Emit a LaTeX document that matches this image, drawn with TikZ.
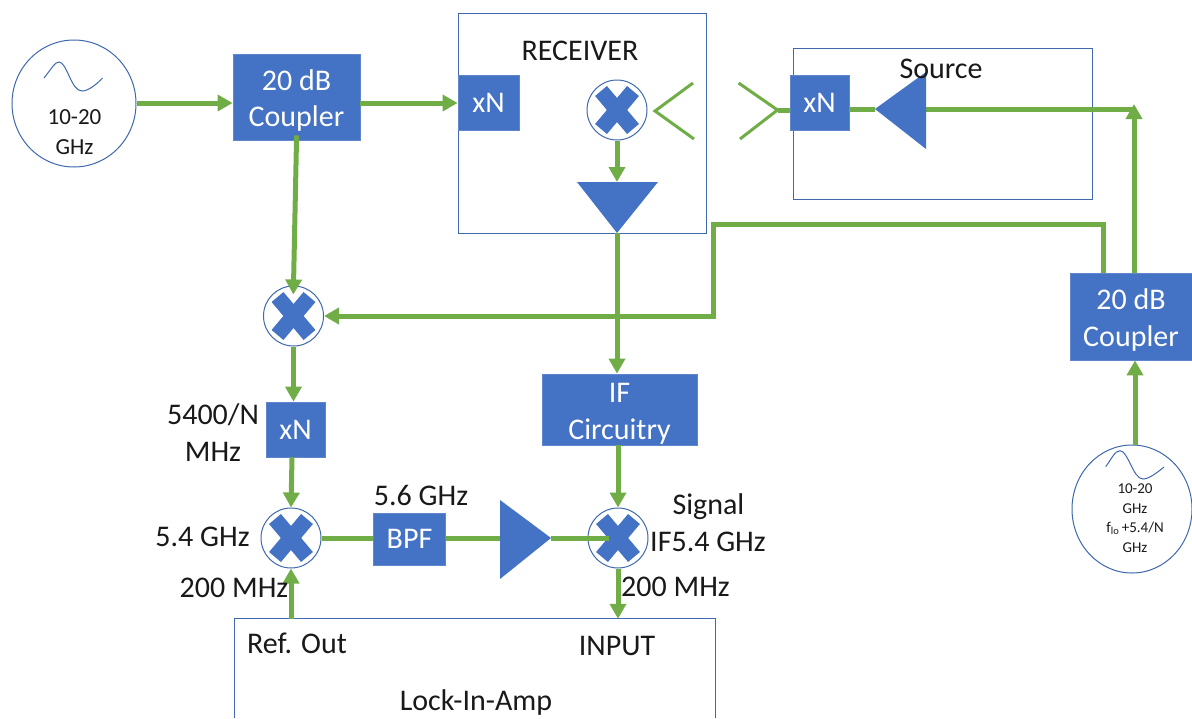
\documentclass[tikz,border=0pt]{standalone}
\usepackage{fontspec}
\setmainfont{Carlito}
\usetikzlibrary{arrows.meta,shapes.geometric,calc}
\definecolor{bblue}{HTML}{4472C4}
\definecolor{edgeblue}{HTML}{3F68AE}
\definecolor{wire}{HTML}{70AD47}
\newcommand{\topgap}{\rule{0pt}{28pt}}
\tikzset{
  x=1pt,y=-1pt,
  blockbox/.style={draw=bblue!85!white,line width=0.8pt,fill=bblue,text=white,inner sep=0pt,align=center,font=\fontsize{30}{36.5}\selectfont},
  framebox/.style={draw=edgeblue,line width=1pt,inner sep=0pt},
  roundbox/.style={ellipse,draw=edgeblue,line width=1pt,inner sep=0pt,fill=white},
  lbl/.style={inner sep=0pt,font=\fontsize{30}{36}\selectfont,text=black!90,text height=19pt,text depth=0pt},
  smalllbl/.style={inner sep=0pt,align=center,text=black!90,font=\fontsize{15}{19.5}\selectfont},
  conn/.style={draw=wire,line width=5pt},
  arr/.style={conn,-{Triangle[width=16pt,length=15pt]}},
  antenna/.style={draw=wire,line width=3pt},
  sine/.style={draw=edgeblue,line width=1pt},
  ampfill/.style={fill=bblue},
  crossarm/.style={draw=bblue,line width=15.5pt}
}
\newcommand{\mixerat}[2]{%
  \node[roundbox,minimum width=60pt,minimum height=60pt] (#1) at (#2) {};
  \draw[crossarm] ($(#1.center)+(-16,-19)$) -- ($(#1.center)+(16,19)$);
  \draw[crossarm] ($(#1.center)+(-16,19)$) -- ($(#1.center)+(16,-19)$);
}
\begin{document}
\begin{tikzpicture}
\useasboundingbox (0,0) rectangle (1192,718);
% frames
\node[framebox,minimum width=248pt,minimum height=220pt] (rx) at (582,123) {};
\node[framebox,minimum width=299pt,minimum height=151pt] (srcframe) at (942.5,123.5) {};
\node[inner sep=0pt,minimum width=480pt,minimum height=99pt] (lock) at (475,668.5) {};
\draw[framebox] (lock.south west) -- (lock.north west) -- (lock.north east) -- (lock.south east);
% sources
\node[roundbox,minimum width=124pt,minimum height=127pt] (osc1) at (74,103.5) {};
\draw[sine] (44,78) .. controls (52,68) and (55,62) .. (59,62) .. controls (67,62) and (71,91) .. (82,91) .. controls (88,91) and (96,85) .. (102.5,78);
\node[lbl,font=\fontsize{23}{30}\selectfont,text height=15pt] (osc1a) at (74.5,117) {10-20};
\node[lbl,font=\fontsize{23}{30}\selectfont,text height=15pt] (osc1b) at (74.5,147) {GHz};
\node[roundbox,minimum width=120pt,minimum height=128pt] (osc2) at (1132,509) {};
\draw[sine] (1105.7,466.7) .. controls (1112,458) and (1115,450.7) .. (1120,450.7) .. controls (1128,450.7) and (1133,479) .. (1143,479) .. controls (1149,479) and (1158,472) .. (1164,467);
\node[smalllbl] (osc2a) at (1135,518) {10-20\\GHz\\f\textsubscript{lo}\,+5.4/N\\GHz};
% blocks
\node[blockbox,minimum width=127pt,minimum height=86pt] (c1) at (296.5,97) {\topgap 20 dB\\Coupler};
\node[blockbox,minimum width=61pt,minimum height=55pt] (xn1) at (488.5,102.5) {xN};
\node[blockbox,minimum width=59pt,minimum height=55pt] (xn2) at (819.5,102.5) {xN};
\node[blockbox,minimum width=122pt,minimum height=87pt] (c2) at (1131,316.5) {\topgap 20 dB\\Coupler};
\node[blockbox,minimum width=155pt,minimum height=71pt] (ifc) at (619.5,409.5) {\topgap IF\\Circuitry};
\node[blockbox,minimum width=59pt,minimum height=55pt] (xn3) at (295.5,429.5) {xN};
\node[blockbox,minimum width=71.5pt,minimum height=52pt] (bpf) at (409.5,539) {BPF};
% amplifier reference points
\coordinate (a1in) at (617,182);
\coordinate (a1out) at (617,233);
\coordinate (a2in) at (926,109);
\coordinate (a2out) at (875,109);
\coordinate (a3in) at (500,538);
\coordinate (a3out) at (551,538);
\coordinate (ant1) at (655,111);
\coordinate (ant2) at (777.5,110);
\coordinate (tee) at (1134,109);
% mixers
\mixerat{m1}{617,110}
\mixerat{m2}{293.5,316}
\mixerat{m3}{291,538}
\mixerat{m4}{618,538}
% connectors
\draw[arr] (osc1.east |- 0,103) -- (c1.west |- 0,103);
\draw[arr] (c1.east |- 0,103) -- (xn1.west |- 0,103);
\draw[arr,shorten <=-5pt,shorten >=-9pt] (c1.south) -- (m2.north);
\draw[arr] (c2.north -| 1103,0) |- (713,224) |- (m2.east);
\draw[arr] (m2.south) -- (xn3.north -| m2.south);
\draw[arr] (xn3.south -| 292,0) -- (m3.north);
\draw[arr] (m1.south) -- (a1in);
\draw[arr] (a1out) -- (ifc.north -| a1out);
\draw[arr] (ifc.south -| m4.north) -- (m4.north);
\draw[conn] (m3.east) -- (bpf.west |- m3.east);
\draw[conn] (bpf.east |- m3.east) -- (a3in);
\draw[conn] (a3out) -- ($(m4.center)+(-9,0)$);
\draw[arr] (m4.south) -- (m4.south |- lock.north);
\draw[arr] (m3.south |- lock.north) -- (m3.south);
\draw[conn] (a2in) -- (tee);
\draw[conn] (a2out) -- (xn2.east |- a2out);
\draw[arr] (c2.north -| tee) -- ($(tee)+(0,-5)$);
\draw[arr] (osc2.north -| 1135,0) -- (c2.south -| 1135,0);
\draw[conn] (ant2) -- (xn2.west |- ant2);
% antennas
\draw[antenna] (693,83) -- (ant1) -- (694,139);
\draw[antenna] (738.6,83) -- (ant2) -- (740,139);
% amplifiers
\fill[ampfill] (577,182) -- (658,182) -- (a1out) -- cycle;
\fill[ampfill] (a2out) -- (926,72) -- (926,149) -- cycle;
\fill[ampfill] (500,500) -- (a3out) -- (500,579) -- cycle;
% labels
\node[lbl] (t1) at (580,51) {RECEIVER};
\node[lbl] (t2) at (941,69) {Source};
\node[lbl] (t3) at (213,415) {5400/N};
\node[lbl] (t4) at (213,452) {MHz};
\node[lbl] (t5) at (421,496) {5.6 GHz};
\node[lbl] (t6) at (202.5,537) {5.4 GHz};
\node[lbl] (t7) at (234,588) {200 MHz};
\node[lbl] (t8) at (708.5,505) {Signal};
\node[lbl] (t9) at (708,542) {IF5.4 GHz};
\node[lbl] (t10) at (675.5,587) {200 MHz};
\node[lbl] (t11) at (297,644) {Ref. Out};
\node[lbl] (t12) at (617,646) {INPUT};
\node[lbl] (t13) at (476,701) {Lock-In-Amp};
\end{tikzpicture}
\end{document}
